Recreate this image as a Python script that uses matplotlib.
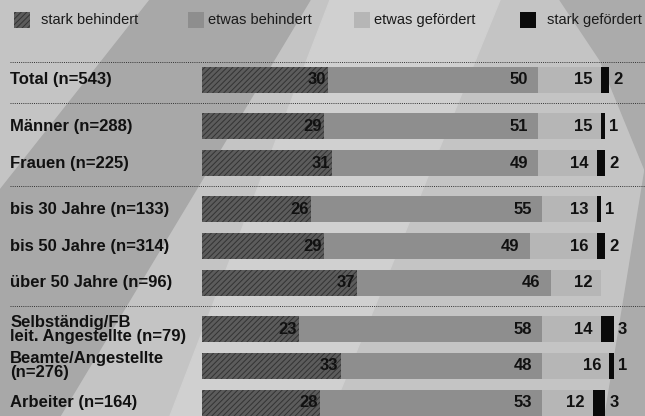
import matplotlib.pyplot as plt
from matplotlib.patches import Rectangle, Polygon

plt.rcParams['font.family'] = ['Liberation Sans', 'DejaVu Sans']
plt.rcParams['hatch.linewidth'] = 0.7

# Daten
labels = ["Total (n=543)", "Männer (n=288)", "Frauen (n=225)",
          "bis 30 Jahre (n=133)", "bis 50 Jahre (n=314)", "über 50 Jahre (n=96)",
          "Selbständig/FB\nleit. Angestellte (n=79)", "Beamte/Angestellte\n(n=276)",
          "Arbeiter (n=164)"]
group = [0, 1, 1, 2, 2, 2, 3, 3, 3]
stark_beh = [30, 29, 31, 26, 29, 37, 23, 33, 28]
etwas_beh = [50, 51, 49, 55, 49, 46, 58, 48, 53]
etwas_gef = [15, 15, 14, 13, 16, 12, 14, 16, 12]
stark_gef = [2, 1, 2, 1, 2, 0, 3, 1, 3]
legend_names = ["stark behindert", "etwas behindert", "etwas gefördert", "stark gefördert"]

c_sb = "#5c5c5c"
c_eb = "#8e8e8e"
c_eg = "#b6b6b6"
c_sg = "#0a0a0a"
bg = "#c4c4c4"

fig = plt.figure(figsize=(6.45, 4.16), dpi=100, facecolor=bg)

# Hintergrund (Rasterfoto angedeutet)
W, H = 645, 416
def px(pts):
    return [(x / W, 1 - y / H) for x, y in pts]
fig.add_artist(Polygon(px([(150, 0), (310, 0), (60, 416), (0, 416), (0, 190)]),
                       closed=True, transform=fig.transFigure, color="#a8a8a8", zorder=0))
fig.add_artist(Polygon(px([(330, 0), (500, 0), (330, 416), (170, 416)]),
                       closed=True, transform=fig.transFigure, color="#d0d0d0", zorder=0))
fig.add_artist(Polygon(px([(560, 0), (645, 0), (645, 416), (605, 416), (645, 170), (600, 60)]),
                       closed=True, transform=fig.transFigure, color="#ababab", zorder=0))

ax = fig.add_axes([0, 0, 1, 1])
ax.set_facecolor("none")
ax.set_xlim(-202 / 4.2, (645 - 202) / 4.2)
ax.set_ylim(9.106, -2.168)
ax.axis("off")

ys = [i + 0.25 * g for i, g in enumerate(group)]
h = 0.70

left2 = [a for a in stark_beh]
left3 = [a + b for a, b in zip(stark_beh, etwas_beh)]
left4 = [a + b + c for a, b, c in zip(stark_beh, etwas_beh, etwas_gef)]

ax.barh(ys, stark_beh, height=h, color=c_sb, edgecolor="#333333", hatch="//////", linewidth=0, zorder=2)
ax.barh(ys, etwas_beh, left=left2, height=h, color=c_eb, linewidth=0, zorder=2)
ax.barh(ys, etwas_gef, left=left3, height=h, color=c_eg, linewidth=0, zorder=2)
ax.barh(ys, stark_gef, left=left4, height=h, color=c_sg, linewidth=0, zorder=2)

fs = 12
for i, y in enumerate(ys):
    ax.text(-45.7, y, labels[i], ha="left", va="center", fontsize=fs,
            fontweight="bold", color="#111111", linespacing=0.92)
    ax.text(stark_beh[i] - 0.5, y, str(stark_beh[i]), ha="right", va="center",
            fontsize=fs, fontweight="bold", color="#111111", zorder=3)
    ax.text(left3[i] - 2.4, y, str(etwas_beh[i]), ha="right", va="center",
            fontsize=fs, fontweight="bold", color="#111111", zorder=3)
    ax.text(left4[i] - 2.0, y, str(etwas_gef[i]), ha="right", va="center",
            fontsize=fs, fontweight="bold", color="#111111", zorder=3)
    if stark_gef[i]:
        ax.text(left4[i] + stark_gef[i] + 1.0, y, str(stark_gef[i]), ha="left", va="center",
                fontsize=fs, fontweight="bold", color="#111111", zorder=3)

# gepunktete Trennlinien
seps = [-0.5]
for i in range(1, len(ys)):
    if group[i] != group[i - 1]:
        seps.append((ys[i] + ys[i - 1]) / 2)
for s in seps:
    ax.plot([-45.7, 106], [s, s], color="#333333", lw=0.7, ls=(0, (1, 1.2)), zorder=1)

# Legende
patch_x = [14, 188, 354, 520]
text_x = [41, 208, 374, 547]
leg_c = [c_sb, c_eb, c_eg, c_sg]
for xx, tx, cc, name in zip(patch_x, text_x, leg_c, legend_names):
    r = Rectangle((xx / W, 1 - 28 / H), 16 / W, 16 / H, transform=fig.transFigure,
                  facecolor=cc, edgecolor="#333333" if cc == c_sb else cc,
                  hatch="//////" if cc == c_sb else None, linewidth=0, zorder=3)
    fig.add_artist(r)
    fig.text(tx / W, 1 - 20 / H, name, ha="left", va="center",
             fontsize=10.5, color="#1a1a1a")

fig.savefig("out.png", dpi=100, facecolor=bg)
